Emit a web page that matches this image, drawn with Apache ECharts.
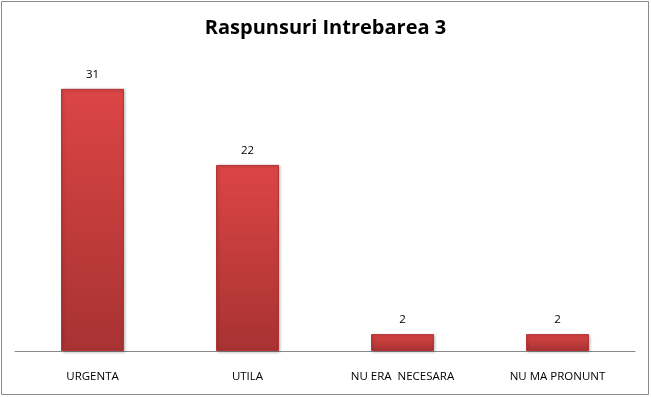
<!DOCTYPE html>
<html>
<head>
<meta charset="utf-8">
<script src="https://cdn.jsdelivr.net/npm/echarts@6/dist/echarts.min.js"></script>
<style>
  html, body { margin: 0; padding: 0; background: #fff; }
  #chart { width: 651px; height: 397px; }
</style>
</head>
<body>
<div id="chart"></div>
<script>
const categories = ['URGENTA', 'UTILA', 'NU ERA  NECESARA', 'NU MA PRONUNT']
const values = [31, 22, 2, 2]

const myChart = echarts.init(document.getElementById('chart'))
myChart.setOption({
    animation: false,
    title: {
        text: 'Raspunsuri Intrebarea 3',
        left: 'center',
        top: 13,
        textStyle: { fontFamily: 'Open Sans', fontWeight: 'bold', fontSize: 20, color: '#000' }
    },
    graphic: [{
        type: 'rect',
        shape: { x: 1.5, y: 1.5, width: 647, height: 393 },
        style: { fill: 'none', stroke: '#8a8a8a', lineWidth: 1 },
        silent: true
    }],
    grid: { left: 15, right: 16, top: 55, bottom: 46 },
    xAxis: {
        type: 'category',
        data: categories,
        axisLine: { lineStyle: { color: '#8a8a8a', width: 1 } },
        axisTick: { show: false },
        axisLabel: { color: '#000', fontFamily: 'Open Sans', fontSize: 11.5, margin: 20 }
    },
    yAxis: {
        type: 'value',
        min: 0,
        max: 35,
        show: false,
        splitLine: { show: false }
    },
    series: [{
        type: 'bar',
        data: values,
        barWidth: 63,
        itemStyle: {
            color: new echarts.graphic.LinearGradient(0, 0, 0, 1, [
                { offset: 0, color: '#dc4545' },
                { offset: 1, color: '#a83232' }
            ]),
            borderColor: '#b33535',
            borderWidth: 1,
            shadowColor: 'rgba(0,0,0,0.25)',
            shadowBlur: 3,
            shadowOffsetX: 1,
            shadowOffsetY: 1
        },
        label: {
            show: true,
            position: 'top',
            distance: 8,
            color: '#000',
            fontFamily: 'Open Sans',
            fontSize: 11.5
        }
    }]
})
</script>
</body>
</html>
